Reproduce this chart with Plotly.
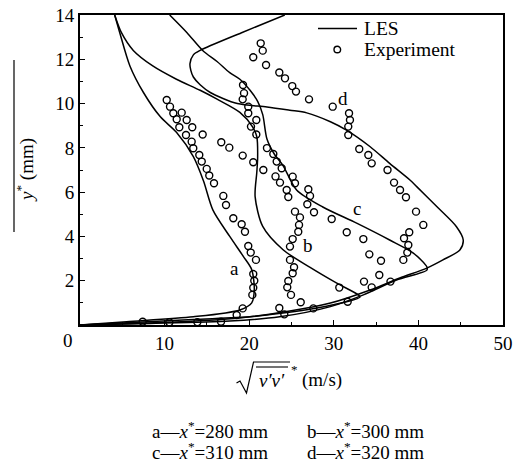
import plotly.graph_objects as go

# ---------------- LES curves ----------------
les_a_x = [4.1, 4.7, 5.9, 7.5, 9.5, 11.4, 13.4, 14.6, 15.7, 17.7, 19.3, 20.3, 20.6, 20.3, 18.9, 13.4, 5.5, 0]
les_a_y = [14.0, 13.2, 11.7, 10.5, 9.4, 8.7, 7.6, 6.5, 5.2, 4.0, 3.1, 2.5, 1.6, 1.0, 0.68, 0.37, 0.15, 0]

les_b_x = [4.1, 4.9, 6.3, 8.6, 11.4, 14.2, 16.2, 18.9, 20.4, 20.9, 21.0, 20.9, 20.7, 21.6, 24.0, 27.2,
           30.3, 32.9, 33.1, 31.5, 28.0, 24.0, 20.1, 13.4, 7.4, 0]
les_b_y = [14.0, 13.2, 12.4, 11.7, 11.1, 10.6, 10.2, 9.6, 8.95, 8.5, 7.6, 6.9, 5.8, 4.45, 3.4, 2.6,
           1.9, 1.36, 1.26, 1.05, 0.77, 0.54, 0.37, 0.25, 0.13, 0]

les_c_x = [10.6, 12.65, 14.5, 16.2, 17.7, 18.9, 20.1, 21.0, 21.6, 22.1, 23.0, 24.0, 25.6, 28.7, 32.7,
           36.6, 39.4, 41.0, 41.0, 37.4, 33.5, 29.6, 23.6, 17.7, 8.3, 0]
les_c_y = [14.0, 13.2, 12.4, 11.9, 11.4, 11.1, 10.6, 10.1, 9.5, 8.4, 7.7, 7.2, 6.1, 5.33, 4.6,
           3.84, 3.25, 2.63, 2.48, 2.03, 1.36, 0.83, 0.37, 0.18, 0.07, 0]

les_d_x = [24.2, 19.1, 14.2, 13.4, 13.0, 13.1, 13.4, 14.2, 15.4, 18.6, 22.1, 24.8, 26.8, 29.6, 31.5,
           34.3, 36.6, 39.0, 39.8, 42.2, 44.5, 45.3, 44.9, 42.9, 41.0, 37.8, 34.3, 29.6, 24.8, 18.9, 9.5, 0]
les_d_y = [14.0, 13.2, 12.4, 12.2, 11.8, 11.5, 11.2, 10.85, 10.5, 10.0, 9.85, 9.7, 9.58, 9.18, 8.8,
           8.05, 7.3, 6.55, 6.25, 5.34, 4.44, 3.84, 3.39, 2.94, 2.57, 2.12, 1.58, 0.99, 0.63, 0.32, 0.11, 0]

# ---------------- Experiment points ----------------
exp_a_x = [10.25, 10.64, 11.03, 11.43, 11.74, 12.53, 13.20, 13.39, 14.10, 14.39, 14.98, 15.28, 15.84,
           16.94, 17.26, 18.12, 19.11, 19.50, 19.89, 20.18, 20.80, 20.48, 20.60, 20.48, 20.37, 19.23,
           18.52, 16.67, 13.87, 10.56, 7.41]
exp_a_y = [10.16, 9.86, 9.56, 9.29, 8.93, 8.58, 8.28, 7.98, 7.68, 7.38, 7.05, 6.75, 6.40,
           5.83, 5.42, 4.82, 4.55, 4.21, 3.57, 3.27, 2.94, 2.30, 2.00, 1.68, 1.36, 0.75,
           0.45, 0.15, 0.13, 0.12, 0.15]

exp_b_x = [12.02, 12.61, 13.27, 14.50, 16.70, 17.65, 19.23, 20.48, 21.67, 23.11, 23.64, 24.43, 24.62,
           25.41, 26.00, 25.89, 25.80, 25.14, 24.82, 24.82, 25.30, 25.14, 24.62, 24.50, 24.94, 26.09,
           23.56, 24.15]
exp_b_y = [9.59, 9.26, 8.93, 8.60, 8.25, 8.01, 7.65, 7.35, 7.00, 6.71, 6.43, 6.10, 5.78,
           5.12, 4.86, 4.52, 4.21, 3.88, 3.54, 2.94, 2.61, 2.34, 1.99, 1.70, 1.36, 1.03,
           0.77, 0.48]

exp_c_x = [19.27, 19.39, 19.23, 19.89, 19.89, 20.84, 20.21, 20.84, 22.10, 22.85, 23.25, 23.84, 25.14,
           25.41, 26.99, 27.19, 26.87, 27.66, 29.75, 31.53, 33.49, 30.65, 31.64, 27.58]
exp_c_y = [10.84, 10.47, 10.19, 9.86, 9.56, 9.26, 8.96, 8.60, 7.99, 7.72, 7.38, 7.08, 6.70,
           6.40, 6.13, 5.83, 5.45, 5.09, 4.79, 4.19, 3.88, 1.69, 1.05, 0.75]

exp_d_x = [21.36, 21.60, 20.48, 21.99, 23.56, 24.23, 25.09, 25.53, 27.07, 29.87, 31.80, 31.91, 31.71,
           31.71, 33.01, 34.08, 34.48, 36.35, 37.12, 37.83, 38.53, 39.72, 40.58, 38.92, 38.30, 38.81,
           38.69, 38.22, 35.58, 34.20, 35.38, 36.70, 33.57, 34.48]
exp_d_y = [12.72, 12.39, 12.09, 11.74, 11.40, 11.14, 10.79, 10.54, 10.19, 9.86, 9.56, 9.26, 8.96,
           8.58, 7.95, 7.68, 7.30, 7.00, 6.43, 6.10, 5.77, 5.12, 4.52, 4.19, 3.92, 3.61,
           3.27, 2.94, 2.90, 3.19, 2.26, 1.96, 1.96, 1.70]

curve_labels = ["a", "b", "c", "d"]
label_x = [18.3, 26.9, 32.7, 31.1]
label_y = [2.56, 3.61, 5.27, 10.24]

x_ticks = [10, 20, 30, 40, 50]
y_ticks = [2, 4, 6, 8, 10, 12, 14]
x_minor = [5, 15, 25, 35, 45]
y_minor = [1, 3, 5, 7, 9, 11, 13]

FONT = "Liberation Serif"

fig = go.Figure()
for xs, ys in [(les_a_x, les_a_y), (les_b_x, les_b_y), (les_c_x, les_c_y), (les_d_x, les_d_y)]:
    fig.add_trace(go.Scatter(x=xs, y=ys, mode="lines",
                             line=dict(color="black", width=1.5, shape="spline", smoothing=0.8),
                             showlegend=False, hoverinfo="skip"))
for xs, ys in [(exp_a_x, exp_a_y), (exp_b_x, exp_b_y), (exp_c_x, exp_c_y), (exp_d_x, exp_d_y)]:
    fig.add_trace(go.Scatter(x=xs, y=ys, mode="markers",
                             marker=dict(symbol="circle-open", size=7, color="black",
                                         line=dict(width=1.4, color="black")),
                             showlegend=False))

for t, lx, ly in zip(curve_labels, label_x, label_y):
    fig.add_annotation(x=lx, y=ly, text=t, showarrow=False, xanchor="center", yanchor="middle",
                       font=dict(family=FONT, size=19, color="black"))

axis_common = dict(showgrid=False, zeroline=False, showline=True, linecolor="black", linewidth=2,
                   mirror=True, ticks="inside", ticklen=5, tickwidth=1.3, tickcolor="black",
                   automargin=False,
                   tickfont=dict(family=FONT, size=19, color="black"))
fig.update_xaxes(range=[0, 50], tickvals=x_ticks, ticktext=[str(v) for v in x_ticks],
                 minor=dict(tickvals=x_minor, ticks="inside", ticklen=3, tickcolor="black", tickwidth=1.2),
                 **axis_common)
fig.update_yaxes(range=[0, 14], tickvals=y_ticks, ticktext=[str(v) for v in y_ticks],
                 minor=dict(tickvals=y_minor, ticks="inside", ticklen=3, tickcolor="black", tickwidth=1.2),
                 **axis_common)

W, H = 517, 464
L, R, T, B = 80, 14, 15, 139
pw, ph = W - L - R, H - T - B

def px(xp):
    return (xp - L) / pw

def py(yp):
    return (H - B - yp) / ph

txt = dict(family=FONT, size=19, color="black")

def note(xp, yp, text, xanchor="center", font=txt, **kw):
    fig.add_annotation(xref="paper", yref="paper", x=px(xp), y=py(yp), text=text, showarrow=False,
                       xanchor=xanchor, yanchor="middle", font=font, **kw)

# corner zero
note(68, 340, "0")

# y-axis title
note(25, 170, "<i>y</i><sup>*</sup> (mm)", textangle=-90)
fig.add_shape(type="line", xref="paper", yref="paper", x0=px(14), x1=px(14), y0=py(60), y1=py(232),
              line=dict(color="black", width=1.2))

# x-axis title: sqrt(v'v')* (m/s)
fig.add_shape(type="path", xref="paper", yref="paper",
              path=f"M {px(236.5)} {py(383)} L {px(240)} {py(381)} L {px(246.5)} {py(393)} "
                   f"L {px(253.5)} {py(362)} L {px(290)} {py(362)}",
              line=dict(color="black", width=1.2))
fig.add_shape(type="line", xref="paper", yref="paper", x0=px(256), x1=px(288), y0=py(367), y1=py(367),
              line=dict(color="black", width=1.1))
note(271.5, 380, "<i>v′v′</i>")
note(294, 369, "*", font=dict(family=FONT, size=13, color="black"))
note(300, 380, "(m/s)", xanchor="left")

# station description
rows = [("a", "280", 150, 430), ("b", "300", 305, 430), ("c", "310", 150, 451), ("d", "320", 305, 451)]
for lab, val, xl, yl in rows:
    note(xl, yl, f"{lab}—<i>x</i><sup>*</sup>={val} mm", xanchor="left")

# legend (manual)
fig.add_shape(type="line", xref="paper", yref="paper", x0=px(318), x1=px(357), y0=py(28.5), y1=py(28.5),
              line=dict(color="black", width=1.5))
r = 3.3
fig.add_shape(type="circle", xref="paper", yref="paper", x0=px(337.3 - r), x1=px(337.3 + r),
              y0=py(49.5 + r), y1=py(49.5 - r), line=dict(color="black", width=1.4))
leg_font = dict(family=FONT, size=19.5, color="black")
note(362, 28.5, "LES", xanchor="left", font=leg_font)
note(362, 49.5, "Experiment", xanchor="left", font=leg_font)

fig.update_layout(width=W, height=H, margin=dict(l=L, r=R, t=T, b=B, autoexpand=False),
                  paper_bgcolor="white", plot_bgcolor="white", showlegend=False,
                  font=dict(family=FONT, size=19, color="black"))

fig.write_html("out.html", config={"displayModeBar": False},
               post_script="document.body.style.margin='0px';document.body.style.padding='0px';")
